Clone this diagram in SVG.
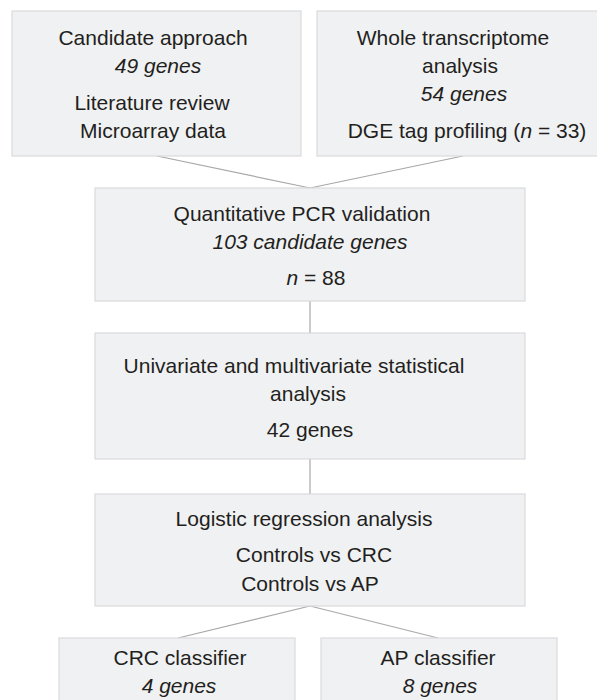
<svg xmlns="http://www.w3.org/2000/svg" width="597" height="700" viewBox="0 0 597 700">
<style>
.box{fill:#f0f1f3;stroke:#dadbdd;stroke-width:1.2}
text{font-family:"Liberation Sans",Arial,sans-serif;font-size:21px;fill:#231f20;text-anchor:middle}
.it{font-style:italic}
.conn{stroke:#a8a8aa;stroke-width:1.2;fill:none}
</style>
<rect width="597" height="700" fill="#ffffff"/>
<g id="connectors">
<line class="conn" x1="157" y1="156" x2="310" y2="188"/>
<line class="conn" x1="463" y1="156" x2="310" y2="188"/>
<line class="conn" x1="310" y1="301" x2="310" y2="333"/>
<line class="conn" x1="310" y1="459" x2="310" y2="494"/>
<line class="conn" x1="310" y1="606" x2="178" y2="638"/>
<line class="conn" x1="310" y1="606" x2="438" y2="638"/>
</g>
<g id="candidate">
<rect class="box" x="12" y="11" width="289" height="145"/>
<text x="153" y="45">Candidate approach</text>
<text class="it" x="158" y="72.5">49 genes</text>
<text x="152" y="110">Literature review</text>
<text x="153" y="138">Microarray data</text>
</g>
<g id="transcriptome">
<rect class="box" x="317" y="11" width="290" height="145"/>
<text x="453" y="44.5">Whole transcriptome</text>
<text x="460" y="72.5">analysis</text>
<text class="it" x="464" y="100.5">54 genes</text>
<text x="467" y="138">DGE tag profiling (<tspan class="it">n</tspan> = 33)</text>
</g>
<g id="qpcr">
<rect class="box" x="95" y="188" width="430" height="113"/>
<text x="302" y="220.5">Quantitative PCR validation</text>
<text class="it" x="310" y="249">103 candidate genes</text>
<text x="316" y="285"><tspan class="it">n</tspan> = 88</text>
</g>
<g id="univariate">
<rect class="box" x="95" y="333" width="430" height="126"/>
<text x="294" y="372.5">Univariate and multivariate statistical</text>
<text x="308" y="400.5">analysis</text>
<text x="310" y="437">42 genes</text>
</g>
<g id="logistic">
<rect class="box" x="95" y="494" width="430" height="112"/>
<text x="304" y="526">Logistic regression analysis</text>
<text x="314" y="562">Controls vs CRC</text>
<text x="310" y="590.5">Controls vs AP</text>
</g>
<g id="crc">
<rect class="box" x="59" y="638" width="236" height="80"/>
<text x="180" y="665">CRC classifier</text>
<text class="it" x="179" y="692.5">4 genes</text>
</g>
<g id="ap">
<rect class="box" x="321" y="638" width="236" height="80"/>
<text x="438" y="665">AP classifier</text>
<text class="it" x="440" y="692.5">8 genes</text>
</g>
</svg>
